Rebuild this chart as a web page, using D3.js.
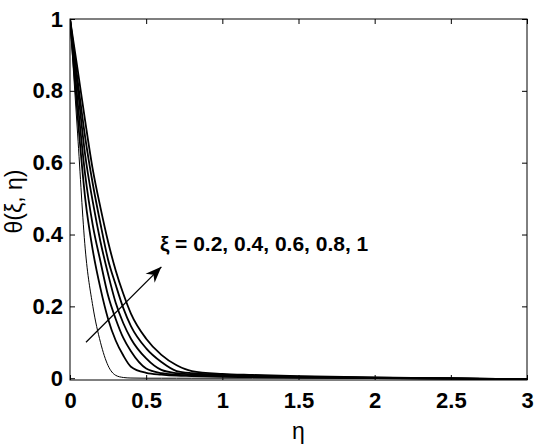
<!DOCTYPE html>
<html>
<head>
<meta charset="utf-8">
<script src="https://cdn.jsdelivr.net/npm/d3@7"></script>
<style>
  body { margin: 0; background: #fff; }
  svg { display: block; }
  text { font-family: "Liberation Sans", Arial, sans-serif; font-weight: bold; }
</style>
</head>
<body>
<div id="chart"></div>
<script>
// ---- data ----
const eta = [0, 0.05, 0.1, 0.15, 0.2, 0.25, 0.3, 0.35, 0.4, 0.5, 0.6, 0.7, 0.8, 1.0, 1.2, 1.5, 2.0, 2.5, 2.8, 3.0];
const theta0 = [1, 0.68, 0.36, 0.20, 0.10, 0.035, 0.008, 0.002, 0.0005, 0, 0, 0, 0, 0, 0, 0, 0, 0, -0.001, -0.002];
const theta1 = [1, 0.73, 0.50, 0.355, 0.25, 0.165, 0.105, 0.063, 0.032, 0.015, 0.01, 0.007, 0.006, 0.004, 0.003, 0.0015, 0, -0.001, -0.002, -0.003];
const theta2 = [1, 0.77, 0.565, 0.425, 0.325, 0.23, 0.165, 0.112, 0.075, 0.027, 0.014, 0.01, 0.008, 0.006, 0.0045, 0.0025, 0.0005, -0.001, -0.002, -0.003];
const theta3 = [1, 0.81, 0.62, 0.49, 0.38, 0.29, 0.21, 0.153, 0.11, 0.055, 0.023, 0.014, 0.011, 0.008, 0.006, 0.0035, 0.001, -0.001, -0.002, -0.003];
const theta4 = [1, 0.83, 0.67, 0.54, 0.43, 0.33, 0.26, 0.195, 0.145, 0.083, 0.045, 0.02, 0.014, 0.01, 0.0075, 0.0045, 0.0015, -0.0005, -0.002, -0.003];
const theta5 = [1, 0.86, 0.715, 0.58, 0.475, 0.38, 0.30, 0.235, 0.18, 0.11, 0.065, 0.036, 0.02, 0.012, 0.009, 0.0055, 0.002, 0, -0.002, -0.003];
const seriesThetas = [theta0, theta1, theta2, theta3, theta4, theta5];
const seriesWidths = [1, 1.8, 1.8, 1.8, 1.8, 1.8];
const xTicks = [0, 0.5, 1, 1.5, 2, 2.5, 3];
const yTicks = [0, 0.2, 0.4, 0.6, 0.8, 1];
const annotation = "ξ = 0.2, 0.4, 0.6, 0.8, 1";
const arrowFrom = [0.105, 0.1];   // (eta, theta)
const arrowTo = [0.6, 0.31];

// ---- layout ----
const W = 544, H = 444;
const mLeft = 70, mRight = 527, mTop = 19, mBottom = 380;

const svg = d3.select("#chart").append("svg").attr("width", W).attr("height", H);

const x = d3.scaleLinear().domain([0, 3]).range([mLeft, mRight]);
const y = d3.scaleLinear().domain([-0.005, 1]).range([mBottom, mTop]);

// frame
svg.append("rect").attr("x", mLeft).attr("y", mTop).attr("width", mRight - mLeft).attr("height", mBottom - mTop)
  .attr("fill", "none").attr("stroke", "#000").attr("stroke-width", 1);

// axes
const fs = "22px";
const xAxis = svg.append("g").attr("transform", `translate(0,${mBottom})`)
  .call(d3.axisBottom(x).tickValues(xTicks).tickFormat(d3.format("")).tickSizeInner(-5).tickSizeOuter(0).tickPadding(12));
const xAxisTop = svg.append("g").attr("transform", `translate(0,${mTop})`)
  .call(d3.axisTop(x).tickValues(xTicks).tickFormat("").tickSizeInner(-5).tickSizeOuter(0));
const yAxis = svg.append("g").attr("transform", `translate(${mLeft},0)`)
  .call(d3.axisLeft(y).tickValues(yTicks).tickFormat(d3.format("")).tickSizeInner(-5).tickSizeOuter(0).tickPadding(7));
const yAxisR = svg.append("g").attr("transform", `translate(${mRight},0)`)
  .call(d3.axisRight(y).tickValues(yTicks).tickFormat("").tickSizeInner(-5).tickSizeOuter(0));
[xAxis, xAxisTop, yAxis, yAxisR].forEach(g => {
  g.select(".domain").remove();
  g.selectAll(".tick line").attr("stroke", "#000");
  g.selectAll("text").attr("font-size", fs).attr("fill", "#000")
    .style("font-family", '"Liberation Sans", Arial, sans-serif').style("font-weight", "bold");
});

// curves
const line = d3.line().x(d => x(d[0])).y(d => y(d[1])).curve(d3.curveMonotoneX);
svg.append("clipPath").attr("id", "clip").append("rect")
  .attr("x", mLeft).attr("y", mTop - 1).attr("width", mRight - mLeft).attr("height", mBottom - mTop + 1);
const plot = svg.append("g").attr("clip-path", "url(#clip)");
seriesThetas.forEach((th, i) => {
  plot.append("path").datum(eta.map((e, k) => [e, th[k]]))
    .attr("d", line).attr("fill", "none").attr("stroke", "#000").attr("stroke-width", seriesWidths[i]);
});

// arrow
svg.append("defs").append("marker").attr("id", "ah").attr("viewBox", "0 0 10 10")
  .attr("refX", 10).attr("refY", 5).attr("markerWidth", 16).attr("markerHeight", 16)
  .attr("markerUnits", "userSpaceOnUse").attr("orient", "auto")
  .append("path").attr("d", "M0,1 L10,5 L0,9 L3,5 Z").attr("fill", "#000");
svg.append("line")
  .attr("x1", x(arrowFrom[0])).attr("y1", y(arrowFrom[1]))
  .attr("x2", x(arrowTo[0])).attr("y2", y(arrowTo[1]))
  .attr("stroke", "#000").attr("stroke-width", 1.3).attr("marker-end", "url(#ah)");

// annotation
svg.append("text").attr("x", x(0.59)).attr("y", y(0.355)).attr("font-size", "21px").text(annotation);

// axis titles
svg.append("text").attr("x", (mLeft + mRight) / 2).attr("y", 439).attr("text-anchor", "middle")
  .attr("font-size", "23px").style("font-weight", "normal").text("η");
svg.append("text").attr("transform", `translate(22,${(mTop + mBottom) / 2 + 2}) rotate(-90)`)
  .attr("text-anchor", "middle").attr("font-size", "23px").style("font-weight", "normal").text("θ(ξ, η)");
</script>
</body>
</html>
